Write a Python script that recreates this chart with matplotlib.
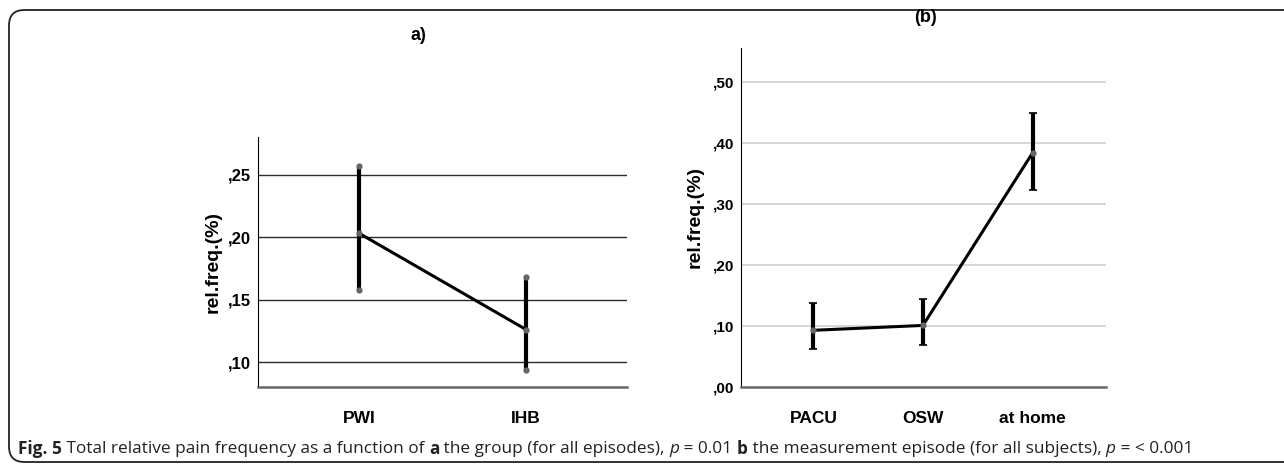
import numpy as np
import matplotlib
matplotlib.use('Agg')
import matplotlib.pyplot as plt
from matplotlib.patches import FancyBboxPatch

# panel a: group
groups = ['PWI', 'IHB']
a_mean = [0.203, 0.126]
a_low = [0.158, 0.094]
a_high = [0.257, 0.168]
a_ticks = [0.10, 0.15, 0.20, 0.25]
a_ticklabels = [',10', ',15', ',20', ',25']

# panel b: measurement episode
episodes = ['PACU', 'OSW', 'at home']
b_mean = [0.093, 0.101, 0.384]
b_low = [0.062, 0.069, 0.323]
b_high = [0.138, 0.144, 0.449]
b_ticks = [0.0, 0.1, 0.2, 0.3, 0.4, 0.5]
b_ticklabels = [',00', ',10', ',20', ',30', ',40', ',50']

plt.rcParams['font.family'] = ['Liberation Sans', 'DejaVu Sans']

fig = plt.figure(figsize=(12.84, 4.65), dpi=100)

# rounded frame, open on the right side
frame = FancyBboxPatch((9/1284, 3/465), 1.3, 1-13/465, boxstyle='round,pad=0,rounding_size=0.012',
                       transform=fig.transFigure, fill=False, ec='#222222', lw=1.3,
                       mutation_aspect=1284/465)
fig.add_artist(frame)


def style_axes(ax, ticklabels, cats, tick_fs):
    ax.set_yticklabels(ticklabels, fontsize=tick_fs, fontweight='bold')
    ax.set_xticklabels(cats, fontsize=12.5, fontweight='bold')
    ax.tick_params(axis='both', length=0)
    ax.tick_params(axis='y', pad=5)
    ax.tick_params(axis='x', pad=17)
    ax.spines['top'].set_visible(False)
    ax.spines['right'].set_visible(False)
    ax.spines['left'].set_color('black')
    ax.spines['bottom'].set_color('#666666')
    ax.spines['bottom'].set_linewidth(1.8)


# ---- panel a
ax1 = fig.add_axes([258/1284, 1-387/465, 369/1284, 250/465])
x1 = np.arange(len(groups))
for yv in a_ticks:
    ax1.axhline(yv, color='#2a2a2a', lw=1.0, zorder=1)
ax1.vlines(x1, a_low, a_high, color='black', lw=3.0, zorder=3)
ax1.plot(x1, a_mean, color='black', lw=2.2, zorder=4)
ax1.plot(np.concatenate([x1, x1, x1]), a_low + a_mean + a_high, 'o', color='#666666',
         ms=4.5, mec='none', zorder=5)
ax1.set_xlim(-0.605, 1.605)
ax1.set_ylim(0.08, 0.28)
ax1.set_yticks(a_ticks)
ax1.set_xticks(x1)
style_axes(ax1, a_ticklabels, groups, 12)
ax1.text(-45/369, 0.5, 'rel.freq.(%)', transform=ax1.transAxes, rotation=90,
         ha='center', va='center', fontsize=14, fontweight='bold')
fig.text(418/1284, 1-36/465, 'a)', fontsize=13, fontweight='bold', ha='center', va='center')

# ---- panel b
ax2 = fig.add_axes([741/1284, 1-387/465, 365/1284, 339/465])
x2 = np.arange(len(episodes))
for yv in b_ticks[1:]:
    ax2.axhline(yv, color='#d3d3d3', lw=1.3, zorder=1)
yerr = [np.array(b_mean) - np.array(b_low), np.array(b_high) - np.array(b_mean)]
ax2.errorbar(x2, b_mean, yerr=yerr, fmt='none', ecolor='black', elinewidth=3.0,
             capsize=3, capthick=1.2, zorder=3)
ax2.plot(x2, b_mean, color='black', lw=2.2, zorder=4)
ax2.plot(x2, b_mean, 'o', color='#666666', ms=4.5, mec='none', zorder=5)
ax2.set_xlim(-0.66, 2.67)
ax2.set_ylim(0.0, 0.556)
ax2.set_yticks(b_ticks)
ax2.set_xticks(x2)
style_axes(ax2, b_ticklabels, episodes, 11)
ax2.text(-46/365, 0.5, 'rel.freq.(%)', transform=ax2.transAxes, rotation=90,
         ha='center', va='center', fontsize=14, fontweight='bold')
fig.text(925/1284, 1-18/465, '(b)', fontsize=13, fontweight='bold', ha='center', va='center')

# ---- caption with mixed styles, sized to span the same width as the original
caption = [('Fig. 5', 'bold', 'normal'),
           (' Total relative pain frequency as a function of ', 'normal', 'normal'),
           ('a', 'bold', 'normal'),
           (' the group (for all episodes), ', 'normal', 'normal'),
           ('p', 'normal', 'italic'),
           (' = 0.01 ', 'normal', 'normal'),
           ('b', 'bold', 'normal'),
           (' the measurement episode (for all subjects), ', 'normal', 'normal'),
           ('p', 'normal', 'italic'),
           (' = < 0.001', 'normal', 'normal')]
renderer = fig.canvas.get_renderer()
cap_family = ['Liberation Sans Narrow', 'Open Sans', 'DejaVu Sans']


def put_caption(fs):
    xpos = 18
    texts = []
    for txt, w, st in caption:
        t = fig.text(xpos/1284, 1-449/465, txt, fontsize=fs, fontweight=w, fontstyle=st,
                     family=cap_family, ha='left', va='center', color='#222222')
        xpos += t.get_window_extent(renderer=renderer).width
        texts.append(t)
    return texts, xpos - 18


texts, wid = put_caption(12)
for t in texts:
    t.remove()
put_caption(12 * 1167 / wid)

fig.savefig('out.png', dpi=100)
